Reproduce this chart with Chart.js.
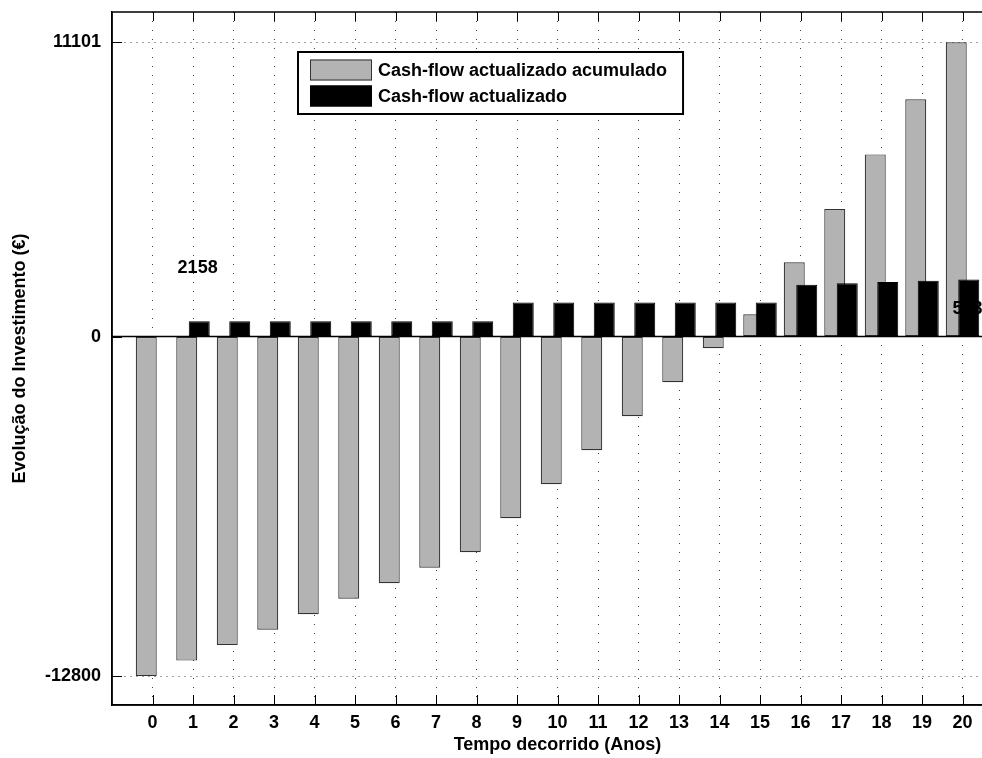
<!DOCTYPE html>
<html>
<head>
<meta charset="utf-8">
<script src="https://cdn.jsdelivr.net/npm/chart.js@4.4.0/dist/chart.umd.min.js"></script>
<style>
html, body { margin: 0; padding: 0; background: #fff; overflow: hidden; }
canvas { display: block; }
</style>
</head>
<body>
<canvas id="grafico" width="1010" height="758"></canvas>
<script>
// dados
const anos = [0,1,2,3,4,5,6,7,8,9,10,11,12,13,14,15,16,17,18,19,20];
const acumulado = [-12800,-12216,-11632,-11048,-10464,-9880,-9296,-8712,-8128,-6846,-5564,-4282,-3000,-1718,-436,846,2800,4810,6870,8950,11101];
const anual = [0,584,584,584,584,584,584,584,584,1282,1282,1282,1282,1282,1282,1282,1960,2010,2060,2110,2158];
const yTicks = [-12800, 0, 11101];
const nomes = ["Cash-flow actualizado acumulado", "Cash-flow actualizado"];
const notas = ["2158", "583"];
const notasX = [0.62, 19.75];
const notasY = [2590, 1040];

const fonte = "'Liberation Sans', Arial, Helvetica, sans-serif";
const fonteBold = "bold 18px " + fonte;

const extras = {
    id: 'extras',
    beforeDatasetDraw(chart, args) {
        // as barras pretas ficam por cima, desenhadas depois
        if (args.index === 1) return false;
    },
    afterDatasetsDraw(chart) {
        const ctx = chart.ctx;
        const a = chart.chartArea;
        const y0 = chart.scales.y.getPixelForValue(0);
        ctx.save();
        ctx.strokeStyle = '#000';
        ctx.lineWidth = 1.5;
        ctx.beginPath();
        ctx.moveTo(a.left, y0);
        ctx.lineTo(a.right, y0);
        ctx.stroke();
        ctx.beginPath();
        ctx.rect(a.left, a.top, a.right - a.left, a.bottom - a.top);
        ctx.clip();
        chart.getDatasetMeta(1).controller.draw();
        ctx.restore();
    },
    afterDraw(chart) {
        const ctx = chart.ctx;
        const a = chart.chartArea;
        const sx = chart.scales.x, sy = chart.scales.y;
        ctx.save();
        // moldura
        ctx.strokeStyle = '#000';
        ctx.lineWidth = 1.5;
        ctx.strokeRect(a.left, a.top, a.right - a.left, a.bottom - a.top);
        // marcas para dentro
        ctx.lineWidth = 1;
        ctx.beginPath();
        anos.forEach(function (v) {
            const px = Math.round(sx.getPixelForValue(v)) + 0.5;
            ctx.moveTo(px, a.top); ctx.lineTo(px, a.top + 9);
            ctx.moveTo(px, a.bottom); ctx.lineTo(px, a.bottom - 10);
        });
        yTicks.forEach(function (v) {
            const py = Math.round(sy.getPixelForValue(v)) + 0.5;
            ctx.moveTo(a.left, py); ctx.lineTo(a.left + 10, py);
        });
        ctx.stroke();

        // legenda
        ctx.font = fonteBold;
        let larg = 0;
        nomes.forEach(function (n) { larg = Math.max(larg, ctx.measureText(n).width); });
        const bx = 298, by = 52, bw = 80 + larg + 16, bh = 62;
        ctx.fillStyle = '#fff';
        ctx.fillRect(bx, by, bw, bh);
        ctx.lineWidth = 2;
        ctx.strokeRect(bx, by, bw, bh);
        chart.data.datasets.forEach(function (ds, i) {
            const cy = by + 18 + i * 26;
            ctx.fillStyle = ds.backgroundColor;
            ctx.fillRect(bx + 12, cy - 10.5, 62, 21);
            ctx.lineWidth = 1;
            ctx.strokeStyle = ds.borderColor;
            ctx.strokeRect(bx + 12.5, cy - 10, 61, 20);
            ctx.fillStyle = '#000';
            ctx.textBaseline = 'middle';
            ctx.textAlign = 'left';
            ctx.fillText(ds.label, bx + 80, cy + 1);
        });

        // textos
        notas.forEach(function (t, i) {
            ctx.fillStyle = '#000';
            ctx.textBaseline = 'middle';
            ctx.textAlign = 'left';
            ctx.fillText(t, sx.getPixelForValue(notasX[i]), sy.getPixelForValue(notasY[i]));
        });
        ctx.restore();
    }
};

new Chart("grafico", {
    type: "bar",
    data: {
        datasets: [{
            label: nomes[0],
            data: anos.map(function (v, i) { return {x: v, y: acumulado[i]}; }),
            backgroundColor: "#b3b3b3",
            borderColor: "#333333",
            borderWidth: 1.2,
            borderSkipped: false
        }, {
            label: nomes[1],
            data: anos.map(function (v, i) { return {x: v, y: anual[i]}; }),
            backgroundColor: "#000000",
            borderColor: "#000000",
            borderWidth: 1,
            borderSkipped: false
        }]
    },
    options: {
        responsive: false,
        animation: false,
        events: [],
        categoryPercentage: 0.617,
        barPercentage: 1.68,
        layout: { padding: { top: 12, right: 7, bottom: 2, left: 0 } },
        plugins: {
            legend: { display: false },
            tooltip: { enabled: false }
        },
        scales: {
            x: {
                type: "linear",
                min: -1,
                max: 21,
                offset: false,
                afterBuildTicks: function (s) { s.ticks = anos.map(function (v) { return {value: v}; }); },
                afterFit: function (s) { s.height = 51; s.paddingLeft = 0; s.paddingRight = 0; },
                grid: { offset: false, color: "#444", drawTicks: false },
                border: { display: true, color: "#000", width: 1.5, dash: [1, 8] },
                ticks: {
                    padding: 7, color: "#000", autoSkip: false, maxRotation: 0,
                    font: { family: fonte, size: 18, weight: "bold" },
                    callback: function (v) { return String(v); }
                },
                title: {
                    display: true, text: "Tempo decorrido (Anos)", color: "#000",
                    padding: { top: 0, bottom: 0 },
                    font: { family: fonte, size: 18, weight: "bold" }
                }
            },
            y: {
                min: -13890,
                max: 12240,
                afterBuildTicks: function (s) { s.ticks = yTicks.map(function (v) { return {value: v}; }); },
                afterFit: function (s) { s.width = 112; s.paddingTop = 0; s.paddingBottom = 0; },
                grid: { color: "#444", drawTicks: false },
                border: { display: true, color: "#000", width: 1.5, dash: [1, 5] },
                ticks: {
                    padding: 11, color: "#000",
                    font: { family: fonte, size: 18, weight: "bold" },
                    callback: function (v) { return String(v); }
                },
                title: {
                    display: true, text: "Evolução do Investimento (€)", color: "#000",
                    padding: { top: 9, bottom: 0 },
                    font: { family: fonte, size: 18, weight: "bold" }
                }
            }
        }
    },
    plugins: [extras]
});
</script>
</body>
</html>
